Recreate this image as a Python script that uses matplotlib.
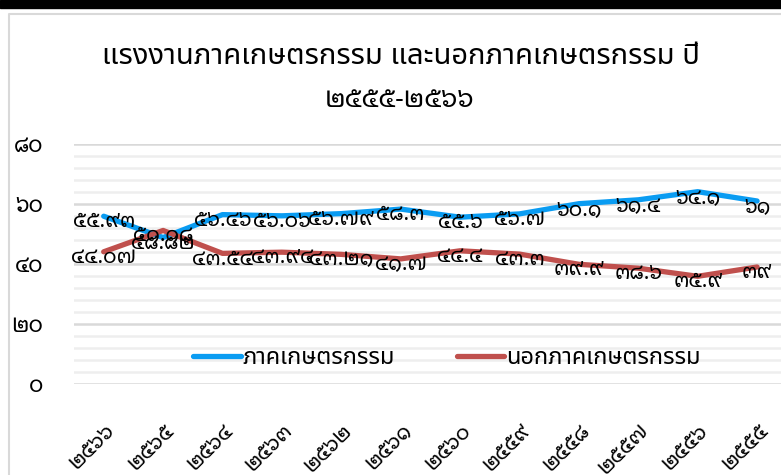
import matplotlib
matplotlib.use("Agg")
import matplotlib.pyplot as plt
from matplotlib.ticker import MultipleLocator, FixedLocator, FixedFormatter
import numpy as np

FAM = ['Noto Sans Thai', 'DejaVu Sans']
NUM = ['Noto Sans Thai Looped', 'Noto Sans Thai', 'DejaVu Sans']
plt.rcParams['font.family'] = FAM

years = ['๒๕๖๖', '๒๕๖๕', '๒๕๖๔', '๒๕๖๓', '๒๕๖๒', '๒๕๖๑',
         '๒๕๖๐', '๒๕๕๙', '๒๕๕๘', '๒๕๕๗', '๒๕๕๖', '๒๕๕๕']
agri = [55.93, 48.82, 56.46, 56.06, 56.79, 58.3, 55.6, 56.7, 60.1, 61.4, 64.1, 61.0]
agri_lbl = ['๕๕.๙๓', '๔๘.๘๒', '๕๖.๔๖', '๕๖.๐๖', '๕๖.๗๙', '๕๘.๓',
            '๕๕.๖', '๕๖.๗', '๖๐.๑', '๖๑.๔', '๖๔.๑', '๖๑']
nonagri = [44.07, 51.18, 43.54, 43.94, 43.21, 41.7, 44.4, 43.3, 39.9, 38.6, 35.9, 39.0]
nonagri_lbl = ['๔๔.๐๗', '๕๑.๑๘', '๔๓.๕๔', '๔๓.๙๔', '๔๓.๒๑', '๔๑.๗',
               '๔๔.๔', '๔๓.๓', '๓๙.๙', '๓๘.๖', '๓๕.๙', '๓๙']
yticks = [0, 20, 40, 60, 80]
ytick_lbl = ['๐', '๒๐', '๔๐', '๖๐', '๘๐']
series_names = ['ภาคเกษตรกรรม', 'นอกภาคเกษตรกรรม']
title1 = 'แรงงานภาคเกษตรกรรม และนอกภาคเกษตรกรรม ปี'
title2 = '๒๕๕๕-๒๕๖๖'

W, H = 781, 475
fig = plt.figure(figsize=(W / 100, H / 100), dpi=100)

# outer frame decorations
fig.patches.append(plt.Rectangle((0, (H - 8) / H), 1, 8 / H, transform=fig.transFigure,
                                 color='black', zorder=0))
fig.lines.append(plt.Line2D([9 / W, 9 / W, 1], [0, (H - 14) / H, (H - 14) / H],
                            transform=fig.transFigure, color='#d9d9d9', lw=1.5))

left, right, top, bottom = 74, 781, 144, 384
ax = fig.add_axes([left / W, (H - bottom) / H, (right - left) / W, (bottom - top) / H])
x = np.arange(len(years))
spacing = 59.4
ax.set_xlim(-0.5, -0.5 + (right - left) / spacing)
ax.set_ylim(0, 80)
for s in ax.spines.values():
    s.set_visible(False)

ax.yaxis.set_major_locator(FixedLocator(yticks))
ax.yaxis.set_major_formatter(FixedFormatter(ytick_lbl))
ax.yaxis.set_minor_locator(MultipleLocator(4))
ax.grid(which='major', axis='y', color='#d9d9d9', lw=1.8)
ax.grid(which='minor', axis='y', color='#eeeeee', lw=1.8)
ax.tick_params(axis='y', which='both', length=0, pad=22)
for t in ax.get_yticklabels():
    t.set_fontfamily(NUM)
    t.set_fontsize(16)
ax.set_axisbelow(True)

ax.set_xticks(x)
ax.set_xticklabels(years, rotation=45, ha='right', va='top', rotation_mode='anchor',
                   fontsize=15, family=NUM)
ax.tick_params(axis='x', length=0, pad=26)

l1, = ax.plot(x, agri, color='#0a9cf2', lw=3.8, solid_capstyle='round',
              solid_joinstyle='round', label=series_names[0])
l2, = ax.plot(x, nonagri, color='#c0504d', lw=3.8, solid_capstyle='round',
              solid_joinstyle='round', label=series_names[1])

for xi, v, t in zip(x, agri, agri_lbl):
    ax.annotate(t, (xi, v), xytext=(0, -4), textcoords='offset points',
                ha='center', va='center', fontsize=15, color='black', family=NUM)
for xi, v, t in zip(x, nonagri, nonagri_lbl):
    ax.annotate(t, (xi, v), xytext=(0, -4), textcoords='offset points',
                ha='center', va='center', fontsize=15, color='black', family=NUM)

leg = fig.legend(handles=[l1, l2], loc='center', bbox_to_anchor=(447 / W, (H - 358) / H),
                 ncol=2, frameon=False, fontsize=17, handlelength=2.0, handletextpad=0.1,
                 columnspacing=2.6)

fig.text(401 / W, (H - 57) / H, title1, ha='center', va='center', fontsize=21)
fig.text(400 / W, (H - 100) / H, title2, ha='center', va='center', fontsize=19,
         fontweight='bold', family=NUM)

fig.savefig("out.png", dpi=100)
